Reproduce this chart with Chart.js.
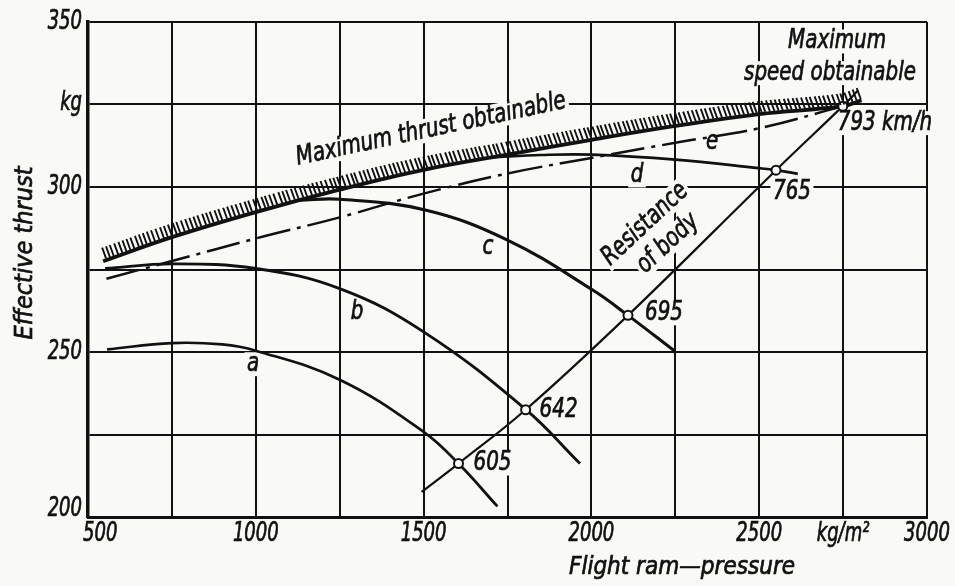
<!DOCTYPE html>
<html>
<head>
<meta charset="utf-8">
<script src="https://cdn.jsdelivr.net/npm/chart.js@4.4.1/dist/chart.umd.min.js"></script>
<style>
  html, body { margin: 0; padding: 0; background: #f9f9f7; }
  canvas { display: block; }
</style>
</head>
<body>
<canvas id="chart" width="955" height="586"></canvas>
<script>
// Axis ticks (flight ram-pressure in kg/m², effective thrust in kg)
const xTickValues = [500, 1000, 1500, 2000, 2500, 2750, 3000];
const xTickText   = ['500', '1000', '1500', '2000', '2500', 'kg/m²', '3000'];
const yTickValues = [200, 250, 300, 325, 350];
const yTickText   = ['200', '250', '300', 'kg', '350'];

// Envelope: maximum thrust obtainable
const maxThrustX = [545, 750, 1000, 1250, 1500, 1750, 2000, 2250, 2500, 2750, 2805];
const maxThrustY = [277.5, 284.8, 292.4, 299.2, 305.2, 309.8, 314.3, 318.5, 322.1, 324.5, 326.3];

// Thrust curves a–e
const curveAX = [557, 750, 900, 1000, 1250, 1500, 1604, 1720];
const curveAY = [250.8, 252.7, 252.3, 250.4, 241.6, 225.8, 216.2, 203.2];

const curveBX = [551, 750, 1000, 1250, 1500, 1804, 1966];
const curveBY = [275.3, 276.7, 275.3, 269.2, 256.1, 232.6, 216.2];

const curveCX = [1130, 1250, 1505, 1750, 2005, 2109, 2249];
const curveCY = [296.0, 296.3, 293.0, 283.9, 268.7, 261.1, 250.2];

const curveDX = [1700, 1850, 2000, 2250, 2500, 2550, 2615];
const curveDY = [309.0, 309.7, 309.8, 308.3, 305.7, 305.1, 304.0];

const curveEX = [555, 745, 1000, 1250, 1500, 1750, 2000, 2250, 2500, 2750];
const curveEY = [272.2, 277.4, 284.4, 290.8, 298.0, 304.1, 308.8, 313.4, 317.8, 324.5];

// Resistance of body, with flight speeds at the intersections
const resistX = [1494, 1604, 1804, 2109, 2550, 2749, 2795];
const resistY = [207.6, 216.2, 232.5, 261.1, 305.1, 324.5, 329.3];
const resistSpeed = [null, '605', '642', '695', '765', '793 km/h', null];

// ---- styling ----
const PAPER = '#f9f9f7';
const INK = '#111111';
const FONT = '"Liberation Sans Narrow", "DejaVu Sans Condensed", "Arial Narrow", sans-serif';
const NARROW = 0.85;      // horizontal squeeze for annotation lettering
const TICK_NARROW = 0.77; // horizontal squeeze for tick numerals

// offsets (px) of the speed labels from their intersection points
const speedLabelOffset = {
  '605': [15, 0], '642': [14, 0], '695': [17, -2], '765': [-3, 22], '793 km/h': [-5, 17]
};

// free text placed in data coordinates
const notes = [
  { text: 'a', x: 992,  y: 246.3, size: 26 },
  { text: 'b', x: 1302, y: 262.0, size: 26 },
  { text: 'c', x: 1692, y: 281.7, size: 26 },
  { text: 'd', x: 2136, y: 303.5, size: 26 },
  { text: 'e', x: 2360, y: 313.6, size: 26 },
  { text: 'Maximum thrust obtainable', x: 1522, y: 317.4, size: 26, rot: -12 },
  { text: 'Maximum', x: 2732, y: 344.1, size: 26 },
  { text: 'speed obtainable', x: 2711, y: 334.5, size: 26 },
  { text: 'Resistance', x: 2160, y: 288.7, size: 26, rot: -43 },
  { text: 'of body', x: 2228, y: 282.9, size: 26, rot: -43 }
];

const pts = (xs, ys) => xs.map((x, i) => ({ x, y: ys[i] }));

function curve(label, xs, ys, width, extra) {
  return Object.assign({
    label,
    data: pts(xs, ys),
    showLine: true,
    borderColor: INK,
    backgroundColor: INK,
    borderWidth: width,
    pointRadius: 0,
    pointHoverRadius: 0,
    tension: 0.4,
    fill: false,
    order: 1
  }, extra || {});
}

function drawText(ctx, text, px, py, opt) {
  ctx.save();
  ctx.translate(px, py);
  if (opt.rot) ctx.rotate(opt.rot * Math.PI / 180);
  const sx = opt.squeeze === undefined ? NARROW : opt.squeeze;
  ctx.scale(sx, 1);
  ctx.font = `italic ${opt.weight || 'normal'} ${opt.size}px ${FONT}`;
  const align = opt.align || 'center';
  ctx.textAlign = align;
  ctx.textBaseline = 'middle';
  const w = ctx.measureText(text).width;
  const x0 = align === 'left' ? 0 : align === 'right' ? -w : -w / 2;
  if (opt.bg !== false) {
    ctx.fillStyle = PAPER;
    ctx.fillRect(x0 - 3, -opt.size * 0.46, w + 6, opt.size * 0.92);
  }
  ctx.fillStyle = INK;
  ctx.strokeStyle = INK;
  ctx.lineWidth = opt.stroke === undefined ? 0.7 : opt.stroke;
  ctx.fillText(text, 0, 0);
  if (ctx.lineWidth > 0) ctx.strokeText(text, 0, 0);
  ctx.restore();
}

const paperPlugin = {
  id: 'paper',
  beforeDraw(chart) {
    const ctx = chart.ctx;
    ctx.save();
    ctx.fillStyle = PAPER;
    ctx.fillRect(0, 0, chart.width, chart.height);
    ctx.restore();
  }
};

const textPlugin = {
  id: 'notes',
  beforeDatasetsDraw(chart) {
    const ctx = chart.ctx;
    const xs = chart.scales.x, ys = chart.scales.y;
    notes.forEach(n => drawText(ctx, n.text, xs.getPixelForValue(n.x), ys.getPixelForValue(n.y), n));
    resistSpeed.forEach((s, i) => {
      if (!s) return;
      const off = speedLabelOffset[s] || [12, 0];
      drawText(ctx, s, xs.getPixelForValue(resistX[i]) + off[0], ys.getPixelForValue(resistY[i]) + off[1],
        { size: 26, align: 'left' });
    });
    const area = chart.chartArea;
    // tick labels, placed on the scale ticks
    xs.ticks.forEach(t => {
      const i = xTickValues.indexOf(t.value);
      if (i < 0) return;
      const first = i === 0;
      drawText(ctx, xTickText[i], xs.getPixelForValue(t.value) + (first ? -5 : 0), area.bottom + 17,
        { size: 26, squeeze: TICK_NARROW, align: first ? 'left' : 'center', bg: false });
    });
    ys.ticks.forEach(t => {
      const i = yTickValues.indexOf(t.value);
      if (i < 0) return;
      const dy = t.value === 200 ? -8 : t.value === 325 ? -1 : 0;
      drawText(ctx, yTickText[i], area.left - 6, ys.getPixelForValue(t.value) + dy,
        { size: 26, squeeze: TICK_NARROW, align: 'right', bg: false });
    });
    // axis titles
    drawText(ctx, 'Effective thrust', area.left - 63, ys.getPixelForValue(280),
      { size: 25, rot: -90, bg: false, squeeze: 1 });
    drawText(ctx, 'Flight ram—pressure', xs.getPixelForValue(2270), area.bottom + 51,
      { size: 24, bg: false, squeeze: 1 });
  }
};

const hatchPlugin = {
  id: 'hatch',
  afterDatasetsDraw(chart) {
    const ctx = chart.ctx;
    chart.data.datasets.forEach((ds, di) => {
      if (!ds.hatch) return;
      const p = chart.getDatasetMeta(di).data;
      ctx.save();
      ctx.strokeStyle = INK;
      ctx.lineWidth = 1.9;
      ctx.lineCap = 'butt';
      const step = 4.4;
      let carry = step / 2;
      ctx.beginPath();
      for (let i = 0; i < p.length - 1; i++) {
        const a = p[i], b = p[i + 1];
        const c1x = a.cp2x ?? a.x, c1y = a.cp2y ?? a.y;
        const c2x = b.cp1x ?? b.x, c2y = b.cp1y ?? b.y;
        let px = a.x, py = a.y;
        const N = 80;
        for (let k = 1; k <= N; k++) {
          const t = k / N, u = 1 - t;
          const x = u * u * u * a.x + 3 * u * u * t * c1x + 3 * u * t * t * c2x + t * t * t * b.x;
          const y = u * u * u * a.y + 3 * u * u * t * c1y + 3 * u * t * t * c2y + t * t * t * b.y;
          carry += Math.hypot(x - px, y - py);
          if (carry >= step) {
            carry -= step;
            ctx.moveTo(x, y - 1.5);
            ctx.lineTo(x - 4, y - 12.5);
          }
          px = x; py = y;
        }
      }
      ctx.stroke();
      ctx.restore();
    });
  }
};

new Chart(document.getElementById('chart'), {
  type: 'scatter',
  data: {
    datasets: [
      curve('Maximum thrust obtainable', maxThrustX, maxThrustY, 3.8, { hatch: true, order: 0 }),
      curve('Resistance of body', resistX, resistY, 2.2, {
        order: -1,
        pointRadius: ctx => (resistSpeed[ctx.dataIndex] ? 4.5 : 0),
        pointBackgroundColor: PAPER,
        pointBorderColor: INK,
        pointBorderWidth: 2
      }),
      curve('a', curveAX, curveAY, 2.7),
      curve('b', curveBX, curveBY, 2.9),
      curve('c', curveCX, curveCY, 3.1),
      curve('d', curveDX, curveDY, 2.7),
      curve('e', curveEX, curveEY, 2.5, { borderDash: [34, 7, 4, 7] })
    ]
  },
  options: {
    responsive: false,
    animation: false,
    devicePixelRatio: 1,
    layout: { padding: { top: 22, right: 28, left: 0, bottom: 0 } },
    plugins: { legend: { display: false }, tooltip: { enabled: false } },
    scales: {
      x: {
        type: 'linear',
        min: 500, max: 3000,
        afterFit: s => { s.height = 69; },
        ticks: { display: false, stepSize: 250, autoSkip: false, maxRotation: 0 },
        grid: { color: INK, lineWidth: 2, drawTicks: false },
        border: { color: INK, width: 3 }
      },
      y: {
        type: 'linear',
        min: 200, max: 350,
        afterFit: s => { s.width = 88; },
        ticks: { display: false, stepSize: 25, autoSkip: false },
        grid: { color: INK, lineWidth: 2, drawTicks: false },
        border: { color: INK, width: 3.5 }
      }
    }
  },
  plugins: [paperPlugin, textPlugin, hatchPlugin]
});
</script>
</body>
</html>
